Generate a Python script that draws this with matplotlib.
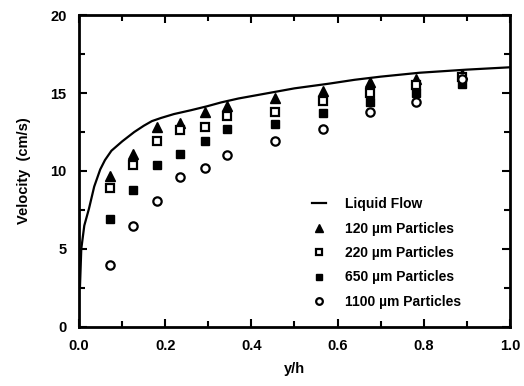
import matplotlib
matplotlib.use('Agg')
import matplotlib.pyplot as plt
from matplotlib.ticker import MultipleLocator

plt.rcParams['font.family'] = ['Liberation Sans', 'DejaVu Sans']
plt.rcParams['font.weight'] = 'bold'

# liquid flow velocity profile
yh_liq = [0.002, 0.005, 0.012, 0.023, 0.035, 0.049, 0.06, 0.075, 0.1, 0.128, 0.15,
          0.169, 0.19, 0.22, 0.26, 0.297, 0.33, 0.37, 0.41, 0.45, 0.5, 0.58, 0.64,
          0.7, 0.79, 0.9, 1.0]
v_liq = [2.6, 5.0, 6.5, 7.6, 9.0, 10.1, 10.7, 11.3, 11.9, 12.5, 12.9,
         13.2, 13.4, 13.65, 13.9, 14.15, 14.4, 14.65, 14.85, 15.05, 15.3, 15.6, 15.85,
         16.05, 16.3, 16.5, 16.65]

# particle measurement stations
yh = [0.072, 0.125, 0.18, 0.234, 0.292, 0.343, 0.455, 0.566, 0.675, 0.782, 0.89]
v_120 = [9.7, 11.1, 12.8, 13.1, 13.8, 14.2, 14.7, 15.1, 15.7, 15.9, 16.2]
v_220 = [8.9, 10.4, 11.9, 12.6, 12.8, 13.5, 13.8, 14.5, 15.0, 15.5, 16.0]
v_650 = [6.9, 8.8, 10.4, 11.1, 11.9, 12.7, 13.0, 13.7, 14.4, 15.0, 15.6]
v_1100 = [4.0, 6.5, 8.1, 9.6, 10.2, 11.0, 11.9, 12.7, 13.8, 14.4, 15.9]

fig = plt.figure(figsize=(5.24, 3.86), dpi=100)
ax = fig.add_axes([0.151, 0.153, 0.822, 0.808])

ax.plot(yh_liq, v_liq, color='black', lw=1.6, label='Liquid Flow')
ax.plot(yh, v_120, ls='none', marker='^', ms=6.5, mfc='black', mec='black',
        label='120 \u00b5m Particles')
ax.plot(yh, v_220, ls='none', marker='s', ms=5.5, mfc='white', mec='black', mew=1.6,
        label='220 \u00b5m Particles')
ax.plot(yh, v_650, ls='none', marker='s', ms=6, mfc='black', mec='black',
        label='650 \u00b5m Particles')
ax.plot(yh, v_1100, ls='none', marker='o', ms=6, mfc='white', mec='black', mew=1.6,
        label='1100 \u00b5m Particles')

ax.set_xlim(0, 1.0)
ax.set_ylim(0, 20)
ax.xaxis.set_major_locator(MultipleLocator(0.2))
ax.xaxis.set_minor_locator(MultipleLocator(0.1))
ax.yaxis.set_major_locator(MultipleLocator(5))
ax.yaxis.set_minor_locator(MultipleLocator(2.5))
ax.tick_params(which='both', direction='in', top=True, right=True, width=1.5,
               labelsize=10.5)
ax.tick_params(which='major', length=6)
ax.tick_params(which='minor', length=4)
ax.tick_params(axis='x', pad=9)
ax.tick_params(axis='y', pad=9)
ax.xaxis.set_major_formatter(plt.FuncFormatter(lambda v, p: f'{v:.1f}'))
for s in ax.spines.values():
    s.set_linewidth(2)

ax.set_xlabel('y/h', fontsize=10.5, fontweight='bold', labelpad=6)
ax.set_ylabel('Velocity  (cm/s)', fontsize=10.5, fontweight='bold', labelpad=14)

ax.legend(loc='upper left', bbox_to_anchor=(0.527, 0.434), frameon=False,
          handlelength=1.0, handletextpad=1.4, labelspacing=0.75, markerscale=0.8,
          borderaxespad=0, prop={'size': 10, 'weight': 'bold'})

fig.savefig('out.png', dpi=100)
